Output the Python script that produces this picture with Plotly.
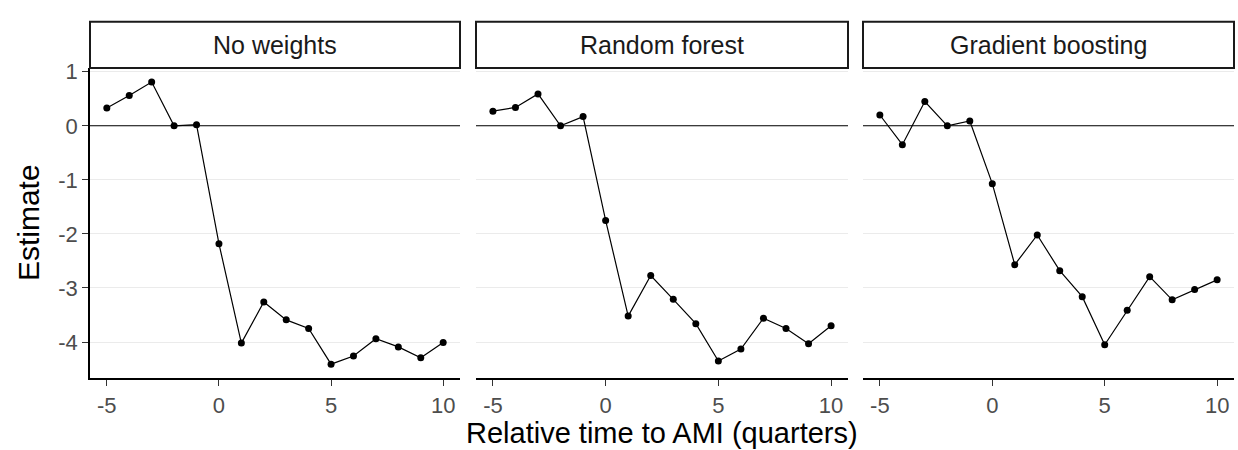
import plotly.graph_objects as go
from plotly.subplots import make_subplots

# Event-study estimates by relative quarter, one series per weighting method
rel_time = [-5, -4, -3, -2, -1, 0, 1, 2, 3, 4, 5, 6, 7, 8, 9, 10]

no_weights = [0.33, 0.56, 0.81, 0.0, 0.02, -2.18, -4.02, -3.26, -3.59, -3.75,
              -4.41, -4.26, -3.94, -4.09, -4.29, -4.01]
random_forest = [0.27, 0.34, 0.59, 0.0, 0.17, -1.75, -3.52, -2.77, -3.21, -3.66,
                 -4.35, -4.13, -3.56, -3.75, -4.03, -3.70]
gradient_boosting = [0.20, -0.35, 0.45, 0.0, 0.09, -1.07, -2.57, -2.02, -2.68, -3.16,
                     -4.05, -3.41, -2.79, -3.22, -3.03, -2.85]

panel_titles = ["No weights", "Random forest", "Gradient boosting"]
series = [no_weights, random_forest, gradient_boosting]

x_ticks = [-5, 0, 5, 10]
x_tick_text = ["-5", "0", "5", "10"]
y_ticks = [1, 0, -1, -2, -3, -4]
y_tick_text = ["1", "0", "-1", "-2", "-3", "-4"]

x_title = "Relative time to AMI (quarters)"
y_title = "Estimate"

W, H = 1238, 450
FONT = "Liberation Sans, Arial, Helvetica, sans-serif"

# panel placement in pixels (left, right) and plot area (top, bottom)
panel_px = [(90, 460), (476, 848), (863, 1234)]
plot_top, plot_bottom = 61, 377
strip_top = 14

fig = make_subplots(rows=1, cols=3, shared_yaxes=True)

for i, vals in enumerate(series):
    fig.add_trace(
        go.Scatter(
            x=rel_time, y=vals, mode="lines+markers",
            line=dict(color="black", width=1.2),
            marker=dict(color="black", size=7),
            showlegend=False, hoverinfo="x+y",
        ),
        row=1, col=i + 1,
    )

# shared y range with 5% padding on both sides
all_vals = no_weights + random_forest + gradient_boosting
ymin, ymax = min(all_vals), max(all_vals)
pad = (ymax - ymin) * 0.05
y_range = [ymin - pad, ymax + pad]
x_pad = (max(rel_time) - min(rel_time)) * 0.05
x_range = [min(rel_time) - x_pad, max(rel_time) + x_pad]

y_dom = [(H - plot_bottom) / H, (H - plot_top) / H]

for i, (l, r) in enumerate(panel_px):
    xa = "xaxis" if i == 0 else f"xaxis{i + 1}"
    ya = "yaxis" if i == 0 else f"yaxis{i + 1}"
    fig.layout[xa].update(
        domain=[l / W, r / W], range=x_range,
        tickmode="array", tickvals=x_ticks, ticktext=x_tick_text,
        showgrid=False, zeroline=False,
        showline=True, linecolor="black", linewidth=1.8,
        ticks="outside", ticklen=6, tickwidth=1.3, tickcolor="#333333",
        tickfont=dict(family=FONT, size=22, color="#4d4d4d"),
        fixedrange=True,
    )
    fig.layout[ya].update(
        domain=y_dom, range=y_range,
        tickmode="array", tickvals=y_ticks, ticktext=y_tick_text,
        showgrid=True, gridcolor="#ebebeb", gridwidth=1,
        zeroline=False,
        showline=(i == 0), linecolor="black", linewidth=1.8,
        ticks="outside" if i == 0 else "", ticklen=6, tickwidth=1.3,
        tickcolor="#333333",
        showticklabels=(i == 0),
        tickfont=dict(family=FONT, size=22, color="#4d4d4d"),
        fixedrange=True,
    )
    # reference line at zero
    fig.add_hline(y=0, line=dict(color="black", width=1.1), row=1, col=i + 1)

    # facet strip
    fig.add_shape(
        type="rect", xref="paper", yref="paper",
        x0=l / W, x1=r / W,
        y0=(H - plot_top) / H, y1=(H - strip_top) / H,
        line=dict(color="#1a1a1a", width=2), fillcolor="white", layer="above",
    )
    fig.add_annotation(
        x=(l + r) / 2 / W, y=(H - (plot_top + strip_top) / 2) / H,
        xref="paper", yref="paper", text=panel_titles[i], showarrow=False,
        font=dict(family=FONT, size=25, color="#1a1a1a"),
        xanchor="center", yanchor="middle",
    )

# axis titles
fig.add_annotation(
    x=(panel_px[0][0] + panel_px[2][1]) / 2 / W, y=(H - 433) / H,
    xref="paper", yref="paper", text=x_title, showarrow=False,
    font=dict(family=FONT, size=29, color="black"),
    xanchor="center", yanchor="middle",
)
fig.add_annotation(
    x=28 / W, y=(H - 219) / H,
    xref="paper", yref="paper", text=y_title, showarrow=False, textangle=-90,
    font=dict(family=FONT, size=30, color="black"),
    xanchor="center", yanchor="middle",
)

fig.update_layout(
    width=W, height=H,
    margin=dict(l=0, r=0, t=0, b=0),
    paper_bgcolor="white", plot_bgcolor="white",
    showlegend=False,
)

fig.write_html("out.html", config={"displayModeBar": False})
